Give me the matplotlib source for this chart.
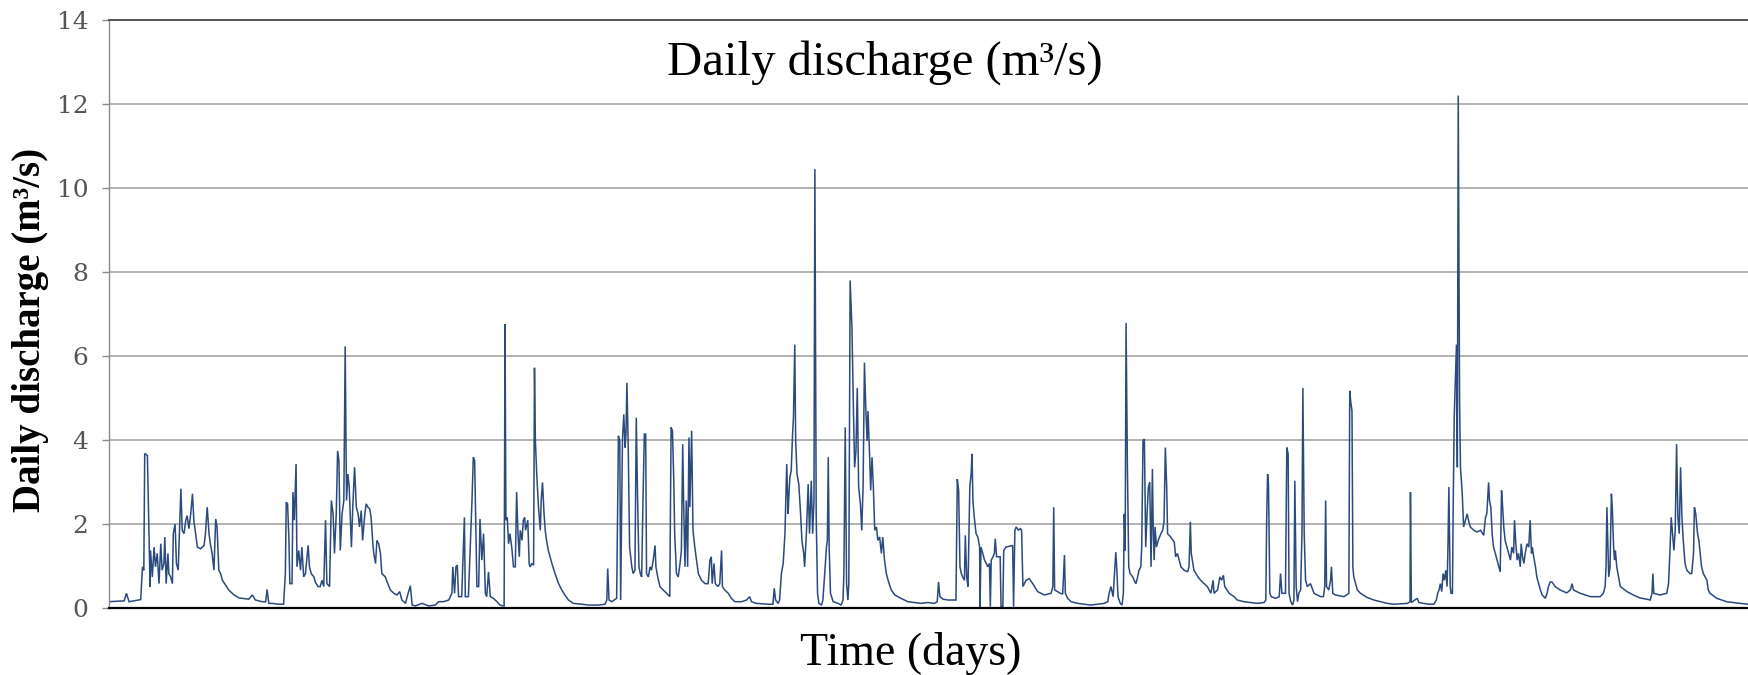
import matplotlib
matplotlib.use("Agg")
import matplotlib.pyplot as plt

# daily discharge series (day index, m3/s)
day = [
    -21, 13, 18, 24, 50, 54, 57, 59, 65, 71, 72, 76, 80, 83, 87, 91, 95, 98, 102, 104,
    107, 111, 113, 117, 121, 123, 127, 130, 134, 137, 140, 143, 147, 151, 154, 158, 162, 166, 169, 173,
    177, 184, 192, 195, 199, 203, 206, 210, 214, 218, 221, 225, 229, 233, 240, 247, 259, 270, 277, 292,
    300, 307, 322, 330, 333, 337, 344, 359, 370, 374, 376, 379, 382, 384, 389, 391, 394, 398, 400, 404,
    408, 411,
    415, 419, 425, 428, 432, 438, 441, 447, 452, 456, 460, 464, 467, 473, 477, 481, 484, 488, 491, 494,
    497, 501, 505, 508, 511, 514, 517, 522, 525, 529, 533, 537, 540, 544, 547, 552, 555, 559, 563, 566,
    570, 572, 576, 579, 583, 587, 590, 598, 602, 609, 617, 624, 630, 635, 643, 649, 654, 658, 665, 680,
    695, 710, 717, 728, 740, 747, 749, 753, 756, 759, 762, 769, 775, 777, 784, 792, 795, 798, 801, 803,
    807, 810, 814, 818, 822, 825, 829, 833, 840, 848, 855, 861, 864, 866, 868, 871, 874, 877,
    881, 885, 889, 892, 895, 898, 900, 904, 907, 910, 912, 917, 920, 922, 926, 930, 932, 934, 937, 941,
    945, 947, 950, 953, 956, 959, 963, 971, 978, 986, 993, 1000, 1008, 1019, 1038, 1053, 1075, 1090, 1094, 1096,
    1099, 1105, 1116, 1120, 1123, 1125, 1129, 1132, 1135, 1137, 1139, 1142, 1145, 1150, 1153, 1157, 1160, 1163, 1166, 1169,
    1172, 1175, 1178, 1181, 1183, 1187, 1191, 1194, 1198, 1202, 1204, 1208, 1213, 1220, 1228, 1235, 1238, 1241, 1244, 1246,
    1250, 1254, 1258, 1261, 1264, 1266, 1269, 1272, 1275, 1278, 1280, 1284, 1287, 1291, 1295, 1299, 1306, 1314, 1321, 1325,
    1328,
    1330, 1334, 1337, 1343, 1347, 1351, 1353, 1358, 1366, 1373, 1381, 1396, 1407, 1414, 1418, 1429, 1455, 1466, 1469, 1472,
    1478, 1481, 1485, 1489, 1493, 1495, 1497, 1500, 1502, 1504, 1507, 1510, 1512, 1515, 1517, 1520, 1524, 1528, 1531, 1535,
    1537, 1541, 1545, 1548, 1552, 1555, 1558, 1560, 1563, 1566, 1569, 1575, 1578, 1582, 1586, 1588, 1590, 1592, 1595, 1601,
    1612, 1619, 1623, 1625, 1628, 1631, 1634, 1636, 1639, 1643, 1646, 1649, 1652, 1655, 1658, 1662, 1665, 1668, 1671, 1674,
    1677, 1679, 1683, 1685, 1688, 1691, 1694, 1698, 1701, 1705, 1709, 1712, 1716, 1720, 1724, 1731, 1739, 1753, 1768,
    1783, 1798, 1813, 1828, 1834, 1837, 1840, 1847, 1858, 1876, 1879, 1882, 1885, 1888, 1891, 1895, 1897, 1900, 1903, 1905,
    1907, 1910, 1912, 1914, 1917, 1921, 1925, 1929, 1930, 1932, 1936, 1940, 1944, 1947, 1951, 1953, 1955, 1959, 1962, 1964,
    1967, 1975, 1977, 1981, 1983, 1988, 2003, 2005, 2008, 2011, 2016, 2020, 2023, 2026, 2033, 2040, 2048, 2059, 2074, 2089,
    2093, 2095, 2097, 2110, 2115, 2119, 2121, 2126, 2134, 2149, 2178, 2208, 2216, 2219, 2223,
    2228, 2231, 2234, 2236, 2239, 2244, 2248, 2251, 2253, 2255, 2257, 2260, 2263, 2266, 2272, 2275, 2279, 2283, 2286, 2290,
    2292, 2295, 2298, 2301, 2304, 2307, 2310, 2313, 2316, 2318, 2320, 2322, 2325, 2329, 2335, 2339, 2342, 2345, 2348, 2350,
    2357, 2365, 2368, 2372, 2380, 2387, 2395, 2398, 2401, 2403, 2409, 2418, 2424, 2432, 2439, 2447, 2452, 2454, 2462, 2467,
    2471, 2475, 2478, 2488, 2499, 2506, 2521, 2551, 2566, 2570, 2572, 2574, 2576, 2579, 2582, 2592, 2600, 2603, 2606, 2614,
    2617, 2620, 2622, 2626, 2630, 2633, 2635, 2638, 2641, 2644, 2648, 2651, 2653, 2656, 2659, 2663, 2670,
    2678, 2685, 2693, 2699, 2702, 2704, 2706, 2711, 2715, 2717, 2720, 2726, 2745, 2756, 2758, 2760, 2763, 2765, 2767, 2771,
    2775, 2782, 2797, 2812, 2827, 2842, 2857, 2887, 2893, 2894, 2896, 2909, 2913, 2935, 2946, 2952, 2955, 2958, 2961, 2964,
    2967, 2970, 2973, 2976, 2978, 2980, 2983, 2985, 2988, 2990, 2992, 2995, 2997, 2999, 3001, 3004, 3006, 3010, 3013, 3017,
    3021, 3024, 3028, 3036, 3043, 3051, 3058, 3062, 3065, 3069, 3071, 3074, 3077, 3080, 3084, 3088, 3092, 3095, 3098, 3100,
    3103, 3106, 3110, 3114, 3118,
    3121, 3125, 3127, 3130, 3133, 3136, 3140, 3142, 3145, 3148, 3151, 3155, 3159, 3162, 3165, 3167, 3170, 3174, 3177, 3181,
    3185, 3189, 3196, 3200, 3203, 3207, 3211, 3218, 3229, 3244, 3252, 3256, 3259, 3274, 3297, 3319, 3326, 3330, 3332, 3334,
    3336, 3338, 3341, 3344, 3346, 3349, 3351, 3353, 3356, 3360, 3364, 3379, 3393, 3408, 3423, 3431, 3435, 3437, 3439, 3453,
    3468, 3472, 3475, 3478, 3481, 3484, 3487, 3490, 3493, 3496, 3499, 3502, 3505, 3509, 3513, 3520, 3524, 3528, 3530, 3533,
    3537, 3540, 3543, 3546, 3550, 3558, 3561, 3565, 3580, 3602, 3632, 3650,
]

discharge = [
    0.15, 0.17, 0.35, 0.15, 0.2, 0.98, 0.9, 3.68, 3.63, 0.5, 1.37, 0.74, 1.45, 0.98, 1.3, 0.58, 1.53, 0.9, 1.06, 1.69,
    0.58, 1.3, 0.82, 0.74, 0.58, 1.77, 2.0, 1.06, 0.9, 1.85, 2.84, 1.85, 1.77, 2.09, 2.2, 1.89, 2.24, 2.72, 2.09, 1.77,
    1.45, 1.41, 1.49, 1.77, 2.4, 1.77, 1.53, 1.3, 0.9, 2.12, 1.93, 0.9, 0.82, 0.66, 0.55, 0.43, 0.31, 0.24, 0.23, 0.21,
    0.31, 0.19, 0.15, 0.15, 0.44, 0.11, 0.11, 0.09, 0.09, 0.82, 2.52, 2.48, 1.61, 0.58, 0.58, 2.76, 2.09, 3.43, 0.98, 1.37,
    0.9, 1.45,
    0.74, 0.82, 1.49, 0.98, 0.82, 0.74, 0.62, 0.51, 0.51, 0.66, 0.51, 2.09, 0.58, 0.51, 2.56, 2.24, 1.3, 2.24, 3.74, 3.51,
    1.37, 2.24, 2.56, 6.23, 2.56, 3.19, 2.88, 1.45, 2.4, 3.35, 2.4, 2.24, 1.93, 2.32, 1.61, 2.24, 2.48, 2.4, 2.36, 2.16,
    1.53, 1.3, 1.06, 1.61, 1.53, 1.3, 0.82, 0.74, 0.62, 0.43, 0.35, 0.31, 0.39, 0.19, 0.11, 0.35, 0.53, 0.07, 0.05, 0.11,
    0.05, 0.07, 0.15, 0.15, 0.19, 0.35, 0.98, 0.35, 0.98, 1.02, 0.27, 0.27, 2.16, 0.27, 0.27, 2.56, 3.59, 3.51, 1.77, 0.51,
    0.51, 2.12, 1.14, 1.77, 0.35, 0.27, 0.86, 0.27, 0.23, 0.15, 0.07, 0.05, 0.05, 6.76, 2.09, 2.16, 1.53, 1.77,
    1.45, 0.98, 0.98, 2.76, 1.77, 1.22, 1.85, 1.61, 2.09, 2.16, 1.85, 2.09, 1.06, 0.98, 1.06, 1.02, 5.72, 3.98, 3.19, 2.4,
    1.85, 2.56, 2.99, 2.32, 1.85, 1.61, 1.37, 1.06, 0.82, 0.58, 0.43, 0.31, 0.19, 0.11, 0.09, 0.07, 0.07, 0.09, 0.19, 0.94,
    0.19, 0.15, 0.23, 4.1, 3.98, 0.19, 3.98, 4.61, 3.82, 4.18, 5.36, 3.82, 1.45, 0.98, 0.82, 0.9, 4.53, 2.56, 0.98, 0.82,
    0.74, 2.56, 4.14, 4.14, 0.82, 0.74, 0.98, 0.9, 1.14, 1.49, 0.98, 0.74, 0.51, 0.43, 0.35, 0.27, 4.3, 4.22, 3.03, 1.77,
    0.82, 0.74, 1.06, 1.37, 3.9, 2.56, 0.98, 2.56, 0.98, 4.06, 2.4, 4.22, 1.85, 1.45, 1.14, 0.82, 0.66, 0.58, 0.58, 1.14,
    1.22,
    0.58, 1.06, 0.58, 0.51, 0.58, 1.37, 0.51, 0.43, 0.35, 0.23, 0.15, 0.15, 0.19, 0.27, 0.15, 0.11, 0.09, 0.09, 0.47, 0.19,
    0.11, 0.19, 0.82, 1.06, 1.77, 2.56, 3.43, 2.24, 2.72, 3.11, 3.27, 4.14, 4.53, 6.27, 3.98, 3.19, 2.95, 2.24, 1.61, 1.3,
    0.98, 1.77, 2.95, 1.77, 3.03, 1.77, 2.56, 10.45, 2.16, 0.35, 0.11, 0.07, 0.19, 0.82, 1.45, 1.61, 3.59, 1.45, 0.35, 0.15,
    0.11, 0.07, 0.19, 0.82, 4.3, 0.58, 0.19, 0.58, 7.8, 6.67, 4.93, 3.35, 3.74, 5.24, 2.88, 2.48, 1.85, 2.88, 5.84, 4.77,
    3.98, 4.69, 3.51, 2.8, 3.59, 2.88, 1.85, 1.93, 1.61, 1.69, 1.3, 1.69, 1.14, 0.82, 0.66, 0.43, 0.31, 0.23, 0.15,
    0.13, 0.11, 0.13, 0.11, 0.15, 0.62, 0.27, 0.21, 0.19, 0.19, 3.07, 2.8, 0.98, 0.82, 0.74, 0.66, 1.73, 0.74, 0.51, 1.77,
    2.88, 3.19, 3.67, 2.56, 2.16, 1.77, 1.69, 1.45, 0.03, 1.45, 1.3, 1.14, 1.06, 0.98, 1.06, 0.03, 1.14, 1.22, 1.3, 1.65,
    1.22, 1.22, 0.03, 0.03, 1.37, 1.45, 1.49, 0.03, 1.85, 1.93, 1.85, 1.89, 1.85, 0.51, 0.66, 0.7, 0.58, 0.39, 0.31, 0.35,
    0.51, 2.4, 0.43, 0.35, 0.33, 1.26, 0.35, 0.23, 0.15, 0.11, 0.07, 0.11, 0.15, 0.35, 0.51,
    0.27, 0.82, 1.33, 0.98, 0.27, 0.11, 0.07, 0.35, 2.24, 1.37, 6.79, 3.35, 0.98, 0.82, 0.74, 0.66, 0.58, 0.74, 0.9, 0.98,
    1.45, 3.98, 4.02, 1.45, 2.24, 2.88, 2.99, 0.98, 3.31, 1.77, 1.14, 1.93, 1.45, 1.61, 1.77, 1.85, 2.05, 3.82, 2.88, 1.77,
    1.69, 1.57, 1.22, 1.3, 0.98, 0.9, 0.86, 0.98, 2.05, 1.3, 0.9, 0.74, 0.66, 0.58, 0.51, 0.35, 0.66, 0.35, 0.43, 0.74,
    0.66, 0.78, 0.51, 0.35, 0.27, 0.19, 0.15, 0.11, 0.13, 0.19, 2.16, 3.19, 2.95, 0.35, 0.27, 0.23, 0.27, 0.82, 0.35, 0.35,
    3.82, 3.67, 0.35, 0.15, 0.07, 0.19, 3.03, 0.51, 0.15, 0.35, 0.43, 1.77, 5.24, 1.77, 0.66, 0.51, 0.58,
    0.35, 0.31, 0.27, 0.27, 0.51, 2.56, 0.51, 0.43, 0.66, 0.98, 0.35, 0.31, 0.27, 0.35, 5.17, 4.93, 4.69, 0.98, 0.74, 0.58,
    0.43, 0.35, 0.25, 0.19, 0.15, 0.11, 0.09, 0.11, 0.15, 2.76, 0.13, 0.23, 0.13, 0.09, 0.09, 0.19, 0.35, 0.43, 0.58, 0.39,
    0.82, 0.66, 0.9, 0.51, 1.45, 2.88, 0.51, 0.35, 0.35, 2.72, 4.53, 5.56, 6.27, 3.35, 12.2, 4.93, 3.35, 2.72, 1.93, 2.09,
    2.24, 2.09, 1.93, 1.85, 1.81, 1.85, 1.73, 2.16, 2.24, 2.99, 2.56, 2.4, 1.77, 1.45, 1.3, 1.14, 0.98, 0.86, 2.8, 2.48,
    1.93, 1.61, 1.45, 1.3, 1.14,
    1.45, 1.3, 2.09, 1.53, 1.14, 1.3, 0.98, 1.53, 1.22, 1.06, 1.3, 1.53, 1.45, 2.09, 1.3, 1.45, 1.22, 0.98, 0.74, 0.58,
    0.43, 0.31, 0.23, 0.35, 0.51, 0.62, 0.62, 0.51, 0.43, 0.36, 0.43, 0.58, 0.43, 0.35, 0.27, 0.27, 0.35, 0.51, 0.98, 2.4,
    1.61, 0.74, 0.98, 2.72, 2.4, 1.45, 1.14, 1.37, 0.98, 0.74, 0.51, 0.39, 0.31, 0.24, 0.21, 0.19, 0.35, 0.82, 0.35, 0.31,
    0.35, 0.58, 1.3, 2.16, 1.77, 1.37, 1.85, 3.9, 2.16, 1.77, 3.35, 2.16, 1.61, 1.06, 0.9, 0.82, 0.82, 1.3, 2.4, 2.24,
    1.77, 1.61, 1.3, 0.98, 0.82, 0.66, 0.43, 0.35, 0.23, 0.15, 0.11, 0.09,
]

y_ticks = [0, 2, 4, 6, 8, 10, 12, 14]

title_text = "Daily discharge (m³/s)"
x_label = "Time (days)"
y_label = "Daily discharge (m³/s)"

W, H = 1748, 675
fig = plt.figure(figsize=(W / 100, H / 100), dpi=100)
ax = fig.add_axes([109 / W, 1 - 608 / H, 1 - 109 / W, (608 - 20) / H])

ax.plot(day, discharge, color="#2b4a7e", lw=1.1, solid_joinstyle="miter")
ax.set_xlim(-21, 3650)
ax.set_ylim(0, 14)
ax.set_yticks(y_ticks)
ax.set_xticks([])
ax.grid(axis="y", color="#9e9e9e", lw=1.1)
ax.set_axisbelow(True)

ax.spines["right"].set_visible(False)
ax.spines["top"].set_color("#555555")
ax.spines["top"].set_linewidth(1.4)
ax.spines["left"].set_color("#8c8c8c")
ax.spines["left"].set_linewidth(1.0)
ax.spines["bottom"].set_color("black")
ax.spines["bottom"].set_linewidth(1.6)
ax.spines["bottom"].set_zorder(3)

ax.tick_params(axis="y", direction="out", length=5, width=1, color="#8c8c8c",
               pad=10, labelsize=18, labelcolor="#555555")
for lab in ax.get_yticklabels():
    lab.set_fontfamily("DejaVu Serif")

fig.text(885 / W, 1 - 75 / H, title_text, ha="center", va="baseline",
         fontsize=35, family="Liberation Serif")
fig.text(911 / W, 1 - 665 / H, x_label, ha="center", va="baseline",
         fontsize=33, family="Liberation Serif")
fig.text(31 / W, 1 - 330 / H, y_label, ha="center", va="center", rotation=90,
         fontsize=28, fontweight="bold", family="Liberation Serif")

fig.savefig("out.png", dpi=100)
